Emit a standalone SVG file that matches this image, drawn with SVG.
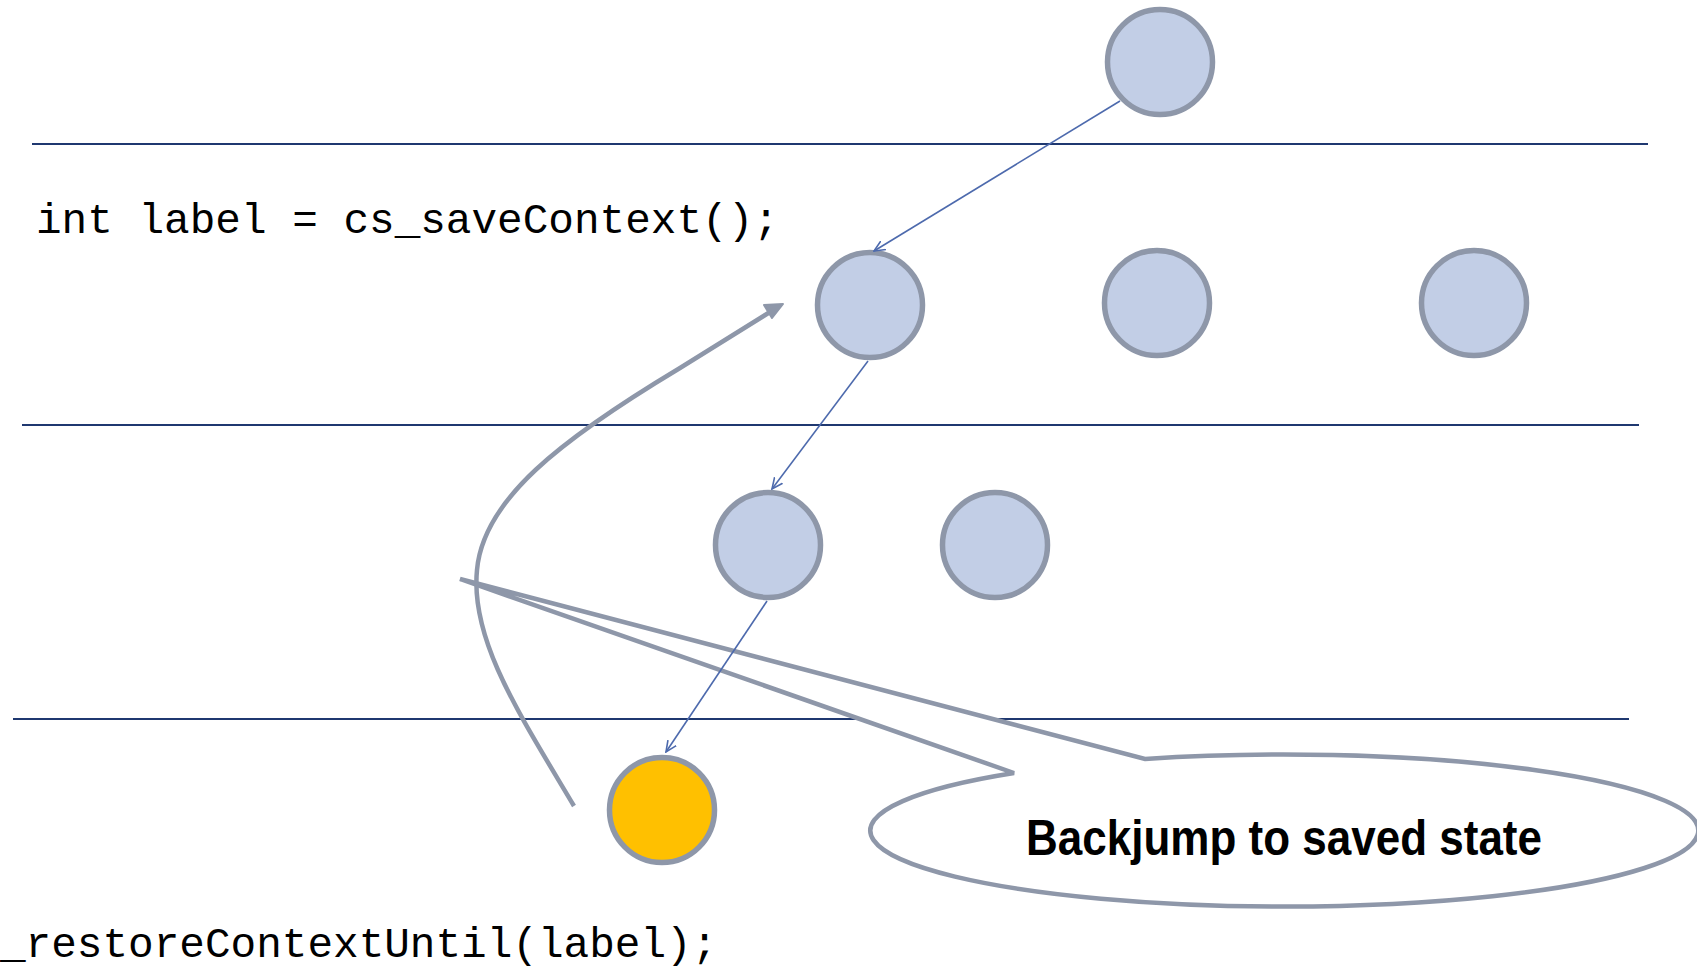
<svg xmlns="http://www.w3.org/2000/svg" width="1697" height="970" viewBox="0 0 1697 970">
  <style>
    .rule { stroke: #1F3870; stroke-width: 2; fill: none; }
    .node { fill: #C2CEE6; stroke: #8E97A9; stroke-width: 5.5; }
    .hit { fill: #FFC000; stroke: #8E97A9; stroke-width: 5.5; }
    .edge { stroke: #4D6AAD; stroke-width: 1.6; fill: none; marker-end: url(#open); }
    .jump { stroke: #8E97A9; stroke-width: 4.5; fill: none; }
    .code { font-family: "Liberation Mono", "Courier New", monospace; font-size: 42.7px; fill: #000; }
    .callout { fill: #FFFFFF; stroke: #8E97A9; stroke-width: 4.5; stroke-linejoin: miter; }
    .calltext { font-family: "Liberation Sans", Arial, sans-serif; font-weight: bold; font-size: 50px; fill: #000; }
  </style>
  <defs>
    <marker id="open" viewBox="0 0 12 12" refX="11" refY="6" markerWidth="12" markerHeight="12" markerUnits="userSpaceOnUse" orient="auto">
      <path d="M0,1 L11,6 L0,11" fill="none" stroke="#4D6AAD" stroke-width="1.6"/>
    </marker>
  </defs>

  <!-- level separators -->
  <g id="levels">
    <line class="rule" x1="32" y1="144" x2="1648" y2="144"/>
    <line class="rule" x1="22" y1="425" x2="1639" y2="425"/>
    <line class="rule" x1="13" y1="719" x2="1629" y2="719"/>
  </g>

  <!-- speech bubble -->
  <g id="callout">
    <path class="callout" d="M1014,773 L460,579 L1145,759 A414,76 0 1 1 1014,773 Z"/>
    <text class="calltext" x="1284" y="855" text-anchor="middle" textLength="516" lengthAdjust="spacingAndGlyphs">Backjump to saved state</text>
  </g>

  <!-- search tree nodes -->
  <g id="n0"><circle class="node" cx="1160" cy="62" r="52.5"/></g>
  <g id="n1"><circle class="node" cx="870" cy="305" r="52.5"/></g>
  <g id="n2"><circle class="node" cx="1157" cy="303" r="52.5"/></g>
  <g id="n3"><circle class="node" cx="1474" cy="303" r="52.5"/></g>
  <g id="n4"><circle class="node" cx="768" cy="545" r="52.5"/></g>
  <g id="n5"><circle class="node" cx="995" cy="545" r="52.5"/></g>
  <g id="n6"><circle class="hit" cx="662" cy="810" r="52.5"/></g>

  <!-- tree edges and the backjump arrow -->
  <g id="connectors">
    <line class="edge" x1="1120" y1="101" x2="874" y2="251"/>
    <line class="edge" x1="868" y1="361" x2="772" y2="489"/>
    <line class="edge" x1="767" y1="601" x2="666" y2="752"/>
    <path class="jump" d="M574,806 C520,715 470,640 477,570 C483,500 560,440 680,368 L770,312"/>
    <polygon points="783,304 764,305 772,318" fill="#8E97A9" stroke="#8E97A9" stroke-width="2" stroke-linejoin="round"/>
  </g>

  <!-- source lines -->
  <g id="code">
    <text class="code" x="36" y="233">int label = cs_saveContext();</text>
    <text class="code" x="0" y="957">_restoreContextUntil(label);</text>
  </g>
</svg>
